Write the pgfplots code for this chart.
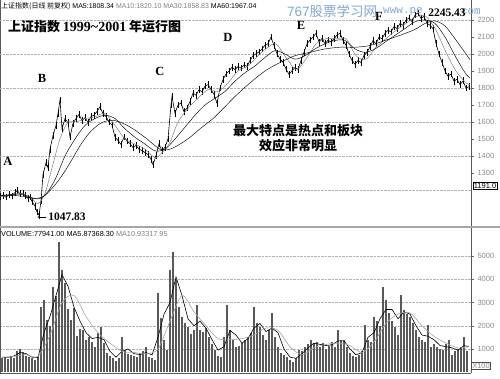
\documentclass[border=0pt]{standalone}
\usepackage{pgfplots}
\pgfplotsset{compat=1.18}
\usetikzlibrary{arrows.meta}
\usepackage{fontspec}
\setmainfont{Liberation Sans}
\newfontfamily\cjk{Noto Sans CJK SC}
\newfontfamily\serifb{Liberation Serif}
\newfontfamily\mono{Liberation Mono}
\definecolor{wm}{HTML}{7FA6D6}
\definecolor{tk}{HTML}{8A8A8A}
\pgfplotsset{
  panel/.style={
    scale only axis, width=471pt, xmin=0, xmax=471,
    separate axis lines, x axis line style={draw=none},
    y axis line style={draw=gray!70!black, line width=0.6pt},
    xtick=\empty, ytick pos=right, yticklabel pos=right,
    tick align=outside, major tick length=3pt,
    tick style={draw=gray!80!black, line width=0.4pt},
    yticklabel style={font=\fontsize{7.5}{8}\selectfont, text=tk, xshift=0pt},
    /pgf/number format/assume math mode=true,
    /pgf/number format/1000 sep={},
    ymajorgrids, major grid style={densely dotted, gray!60},
  }
}
\begin{document}
\begin{tikzpicture}[x=1pt,y=1pt]
\useasboundingbox (0pt,0pt) rectangle (500pt,378pt);
% ---------------- price panel ----------------
\begin{axis}[panel, at={(0pt,151pt)}, anchor=south west, height=227pt,
  ymin=982, ymax=2318, ytick={1300,1400,...,2200},
  ymajorgrids=false,
  extra y ticks={1200,1400,...,2200}, extra y tick labels={},
  extra y tick style={ymajorgrids=true, tick style={draw=none}}]
% close line with daily range
\addplot[black, line width=0.6pt,
  error bars/.cd, y dir=both, y fixed=20, error mark=none,
  error bar style={line width=0.5pt, black}] coordinates {
(0,1160)(3,1168)(6,1158)(9,1172)(12,1165)(15,1185)(17,1196)(20,1178)(23,1182)(25,1168)
(28,1150)(30,1158)(32,1132)(35,1105)(37,1070)(39,1052)(41,1135)(43,1290)(46,1360)(48,1330)
(50,1440)(53,1520)(56,1580)(58,1650)(60,1730)(62,1560)(65,1620)(68,1595)(70,1512)(73,1592)
(76,1620)(79,1645)(82,1608)(85,1625)(88,1598)(91,1632)(94,1640)(97,1662)(100,1690)(103,1648)
(106,1632)(109,1600)(112,1582)(115,1510)(118,1492)(121,1468)(124,1512)(127,1488)(130,1472)(133,1450)
(136,1462)(139,1440)(142,1432)(145,1420)(148,1408)(151,1380)(153,1348)(156,1402)(159,1472)(162,1430)
(165,1452)(168,1500)(171,1700)(172,1750)(175,1652)(178,1700)(181,1712)(184,1660)(187,1682)(190,1720)
(193,1770)(196,1758)(199,1790)(202,1778)(205,1812)(208,1820)(211,1790)(214,1762)(217,1710)(220,1800)
(223,1850)(226,1882)(229,1900)(232,1922)(235,1908)(238,1926)(241,1918)(244,1935)(247,1928)(250,1962)
(253,1990)(256,2002)(259,2012)(262,2030)(265,2052)(268,2060)(271,2100)(274,2050)(277,2002)(280,1970)
(283,1952)(286,1912)(289,1880)(292,1902)(295,1920)(298,1910)(301,1962)(304,2010)(307,2060)(310,2082)
(313,2100)(316,2122)(319,2070)(322,2092)(325,2060)(328,2082)(331,2070)(334,2090)(337,2112)(340,2122)
(343,2080)(346,2052)(349,2000)(352,1962)(355,1940)(358,1962)(361,1950)(364,1992)(367,2010)(370,2042)
(373,2080)(376,2060)(379,2100)(382,2090)(385,2122)(388,2140)(391,2130)(394,2162)(397,2150)(400,2180)
(403,2170)(406,2200)(409,2212)(412,2190)(415,2230)(418,2242)(421,2210)(424,2222)(427,2180)(430,2170)
(433,2150)(436,2062)(439,2000)(442,1950)(445,1900)(448,1870)(451,1882)(454,1840)(457,1852)(460,1820)
(463,1842)(466,1800)(469,1808)};
% MA10
\addplot[gray, line width=0.5pt, smooth] coordinates {
(0,1160)(10,1170)(20,1180)(30,1160)(38,1120)(45,1180)(52,1330)(60,1500)(68,1600)(76,1600)
(85,1620)(95,1630)(105,1650)(115,1580)(125,1500)(135,1470)(145,1440)(155,1390)(162,1420)(170,1480)
(178,1600)(188,1680)(198,1740)(208,1790)(218,1780)(228,1830)(238,1900)(248,1930)(258,1990)(268,2040)
(276,2060)(286,1980)(296,1910)(306,1970)(316,2060)(326,2090)(336,2090)(346,2090)(356,1990)(366,1970)
(376,2040)(386,2090)(396,2140)(406,2180)(416,2220)(426,2220)(436,2140)(446,2010)(456,1900)(466,1830)(470,1820)};
% MA30
\addplot[black, line width=0.45pt, smooth] coordinates {
(0,1165)(20,1175)(35,1150)(45,1170)(55,1260)(65,1400)(75,1500)(85,1580)(95,1620)(105,1640)
(115,1620)(125,1560)(135,1510)(145,1470)(155,1430)(165,1440)(175,1500)(185,1570)(195,1640)(205,1700)
(215,1740)(225,1780)(235,1840)(245,1890)(255,1930)(265,1980)(275,2020)(285,2000)(295,1970)(305,1990)
(315,2030)(325,2060)(335,2080)(345,2080)(355,2030)(365,2010)(375,2030)(385,2070)(395,2110)(405,2150)
(415,2190)(425,2200)(435,2180)(445,2100)(455,1990)(465,1890)(470,1859)};
% MA60
\addplot[black, line width=0.45pt, smooth] coordinates {
(0,1170)(20,1165)(40,1150)(55,1230)(67,1330)(80,1460)(90,1540)(100,1590)(110,1610)(120,1600)
(133,1560)(147,1500)(160,1440)(170,1440)(180,1470)(190,1510)(200,1560)(213,1620)(225,1690)(235,1750)
(250,1830)(265,1900)(280,1950)(295,1990)(310,2010)(325,2030)(340,2040)(355,2040)(370,2050)(385,2080)
(400,2110)(415,2145)(425,2180)(435,2195)(445,2165)(455,2090)(470,1967)};
\end{axis}
% ---------------- volume panel ----------------
\begin{axis}[panel, at={(0pt,5pt)}, anchor=south west, height=146pt,
  ymin=-32, ymax=6247, ytick={1000,2000,...,5000}]
\addplot[ycomb, draw=black!65, line width=2.1pt] coordinates {
(2,600)(5,650)(8,560)(11,700)(14,620)(17,900)(20,980)(23,850)(26,720)(29,640)(32,600)(35,520)(38,700)
(41,2800)(44,3100)(47,2250)(50,2000)(53,3670)(56,3300)(59,5600)(62,4400)(65,3850)(68,2700)(71,2250)(74,2760)(77,1550)(80,1850)
(83,1800)(86,1400)(89,1500)(92,1300)(95,1100)(98,1700)(101,1950)(104,1260)(107,840)(110,700)(113,600)(116,500)(119,620)
(122,1520)(125,960)(128,800)(131,740)(134,700)(137,650)(140,820)(143,900)(146,1090)(149,650)(152,600)(155,520)(158,3400)
(161,2340)(164,1390)(167,960)(170,4400)(173,5180)(176,3970)(179,2820)(182,2380)(185,2100)(188,1950)(191,1660)(194,1800)(197,2900)(200,1820)
(203,1750)(206,1900)(209,1520)(212,1200)(215,960)(218,700)(221,660)(224,1500)(227,2900)(230,1800)(233,1400)(236,1090)(239,1150)(242,1260)
(245,1400)(248,1520)(251,1700)(254,2820)(257,2110)(260,1950)(263,1600)(266,1390)(269,1800)(272,2530)(275,1520)(278,1100)(281,840)(284,750)
(287,660)(290,520)(293,450)(296,600)(299,960)(302,900)(305,1090)(308,1200)(311,1390)(314,1250)(317,1300)(320,1100)
(323,1250)(326,1000)(329,1150)(332,1300)(335,1100)(338,1820)(341,1400)(344,1390)(347,1100)(350,840)(353,700)(356,660)(359,760)
(362,900)(365,2040)(368,1400)(371,1300)(374,2380)(377,2200)(380,2000)(383,3670)(386,3110)(389,2530)(392,2200)(395,1950)(398,1600)
(401,3320)(404,2680)(407,2500)(410,2390)(413,2100)(416,1820)(419,1520)(422,1400)(425,1300)(428,2040)(431,1090)(434,1200)(437,1100)
(440,1000)(443,960)(446,1200)(449,1390)(452,740)(455,900)(458,1000)(461,1100)(464,1520)(467,900)};
% MA5
\addplot[black, line width=0.6pt] coordinates {
(2,650)(8,640)(14,700)(20,850)(26,800)(32,650)(38,620)(44,1700)(50,2400)(56,3300)(62,4200)(68,3700)
(74,2800)(80,2200)(86,1700)(92,1450)(98,1500)(104,1400)(110,900)(116,650)(122,900)(128,1000)(134,800)
(140,760)(146,850)(152,750)(158,1500)(164,2500)(170,3000)(176,4100)(182,3300)(188,2300)(194,2000)(200,2200)
(206,1900)(212,1400)(218,950)(224,1100)(230,1800)(236,1600)(242,1250)(248,1450)(254,1900)(260,2100)(266,1750)
(272,1900)(278,1700)(284,1000)(290,650)(296,600)(302,800)(308,1050)(314,1250)(320,1200)(326,1150)(332,1180)
(338,1350)(344,1350)(350,1000)(356,750)(362,850)(368,1500)(374,1700)(380,2300)(386,2700)(392,2700)(398,2300)
(404,2600)(410,2500)(416,2000)(422,1600)(428,1550)(434,1400)(440,1150)(446,1100)(452,1050)(458,950)(464,1150)(469,1100)};
% MA10
\addplot[gray!70, line width=0.6pt, smooth] coordinates {
(2,640)(14,680)(26,760)(38,680)(50,1600)(62,3000)(74,3300)(86,2400)(98,1700)(110,1250)(122,900)(134,850)
(146,800)(158,1000)(170,2200)(182,3300)(194,2600)(206,2000)(218,1450)(230,1400)(242,1450)(254,1600)(266,1900)
(278,1800)(290,1100)(302,750)(314,1050)(326,1200)(338,1250)(350,1150)(362,850)(374,1300)(386,2100)(398,2500)
(410,2550)(422,2000)(434,1550)(446,1250)(458,1050)(469,1100)};
\end{axis}
% frame lines
\draw[gray!70, line width=1.2pt] (0pt,151pt) -- (500pt,151pt);
\draw[gray!70!black, line width=0.6pt] (0pt,5pt) -- (471pt,5pt);
% headers
\node[anchor=west, inner sep=0, font=\fontsize{7}{8}\selectfont] at (1pt,372pt)
  {{\cjk 上证指数(日线 前复权)} MA5:1808.34 \textcolor{gray}{MA10:1820.10 MA30:1858.83} MA60:1967.04};
\node[anchor=west, inner sep=0, font=\fontsize{7.3}{8}\selectfont] at (1pt,144.5pt)
  {VOLUME:77941.00 MA5.87368.30 \textcolor{gray}{MA10.93317.95}};
% title
\node[anchor=west, inner sep=0] at (8pt,351pt)
  {{\cjk\bfseries\fontsize{13}{14}\selectfont 上证指数} {\serifb\bfseries\fontsize{14}{14}\selectfont 1999\char`\~2001} {\cjk\bfseries\fontsize{13}{14}\selectfont 年运行图}};
% watermark
\node[anchor=west, inner sep=0, text=wm, font=\fontsize{13.5}{14}\selectfont] at (287pt,367pt) {767{\cjk 股票学习网}};
\node[anchor=west, inner sep=0, text=wm, font=\mono\fontsize{11}{11}\selectfont] at (383pt,366pt) {www.pe};
\node[anchor=east, inner sep=0, text=wm, font=\mono\fontsize{11}{11}\selectfont] at (481pt,366pt) {.com};
% letters
\begin{scope}[every node/.style={font=\serifb\bfseries\fontsize{12.5}{13}\selectfont, inner sep=0}]
\node at (8pt,217pt) {A};
\node at (42pt,300pt) {B};
\node at (160pt,307pt) {C};
\node at (228pt,341pt) {D};
\node at (301pt,353pt) {E};
\node at (379pt,362pt) {F};
\end{scope}
\node[inner sep=0, font=\serifb\bfseries\fontsize{11.5}{12}\selectfont] at (447pt,365pt) {2245.43};
% low annotation
\draw[-{Latex[length=2.5pt]}, line width=0.6pt] (46pt,161pt) -- (37pt,161pt);
\node[inner sep=0, font=\serifb\bfseries\fontsize{11.5}{12}\selectfont] at (67pt,161pt) {1047.83};
% chinese annotation
\node[align=center, inner sep=0, font=\cjk\bfseries\fontsize{13}{15}\selectfont] at (298pt,239.5pt)
  {最大特点是热点和板块\\效应非常明显};
% right boxes
\node[draw=black, fill=white, inner sep=0.8pt, font=\fontsize{7.5}{8}\selectfont] at (485pt,192pt) {1191.0};
\node[draw=black!70, fill=white, inner sep=0.8pt, font=\fontsize{7.5}{8}\selectfont, text=tk] at (481pt,12pt) {X100};
\end{tikzpicture}
\end{document}
